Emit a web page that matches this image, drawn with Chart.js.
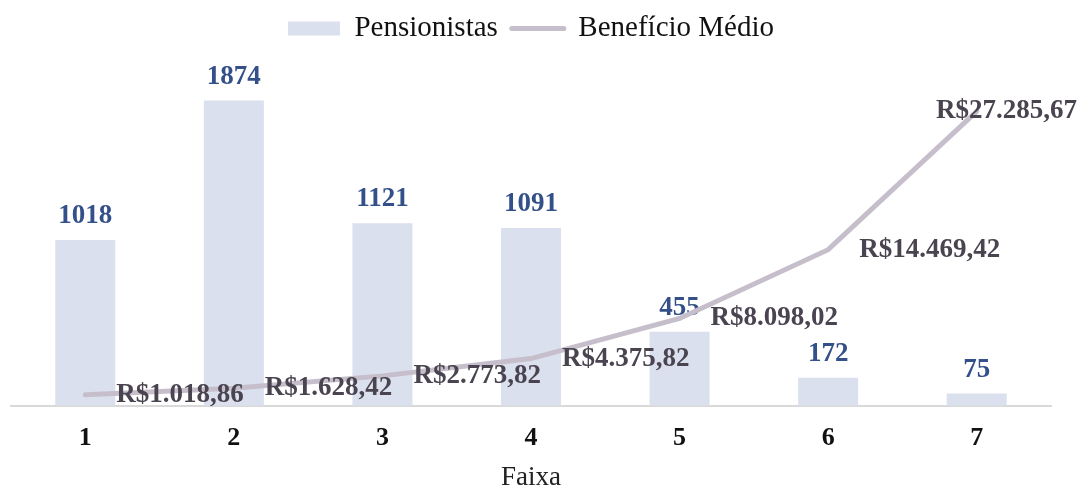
<!DOCTYPE html>
<html>
<head>
<meta charset="utf-8">
<script src="https://cdn.jsdelivr.net/npm/chart.js@4"></script>
<style>
  html, body { margin: 0; padding: 0; background: #fff; }
  #wrap { width: 1081px; height: 486px; }
</style>
</head>
<body>
<div id="wrap"><canvas id="faixaChart"></canvas></div>
<script>
// === data ===
const faixas = ["1", "2", "3", "4", "5", "6", "7"];
const pensionistas = [1018, 1874, 1121, 1091, 455, 172, 75];
const beneficioMedio = [1018.86, 1628.42, 2773.82, 4375.82, 8098.02, 14469.42, 27285.67];

const serif = "'Liberation Serif', 'Times New Roman', serif";

function formatBRL(v) {
    const parts = v.toFixed(2).split(".");
    const inteiro = parts[0].replace(/\B(?=(\d{3})+(?!\d))/g, ".");
    return "R$" + inteiro + "," + parts[1];
}

// extra room under the legend
const legendGap = {
    id: "legendGap",
    beforeInit(chart) {
        const fit = chart.legend.fit;
        chart.legend.fit = function () {
            fit.bind(chart.legend)();
            this.height += 27;
        };
    }
};

// value labels (bars right after the bars, line labels on top of everything)
const valueLabels = {
    id: "valueLabels",
    afterDatasetDraw(chart, args) {
        if (args.index !== 0) return;
        const ctx = chart.ctx;
        ctx.save();
        ctx.font = "bold 27px " + serif;
        ctx.fillStyle = "#34508a";
        ctx.textAlign = "center";
        ctx.textBaseline = "alphabetic";
        args.meta.data.forEach((bar, i) => {
            ctx.fillText(String(pensionistas[i]), bar.x, bar.y - 17);
        });
        ctx.restore();
    },
    afterDatasetsDraw(chart) {
        const ctx = chart.ctx;
        const meta = chart.getDatasetMeta(1);
        ctx.save();
        ctx.font = "bold 27px " + serif;
        ctx.fillStyle = "#4a4450";
        ctx.textAlign = "left";
        ctx.textBaseline = "middle";
        meta.data.forEach((pt, i) => {
            const txt = formatBRL(beneficioMedio[i]);
            const w = ctx.measureText(txt).width;
            let x = pt.x + 31;
            if (x + w > chart.width - 4) x = chart.width - 4 - w;
            ctx.fillText(txt, x, pt.y);
        });
        ctx.restore();
    }
};

const ctx = document.getElementById("faixaChart").getContext("2d");

new Chart(ctx, {
    type: "bar",
    data: {
        labels: faixas,
        datasets: [{
            label: "Pensionistas",
            data: pensionistas,
            backgroundColor: "#dae0ee",
            borderWidth: 0,
            categoryPercentage: 1,
            barPercentage: 0.404,
            yAxisID: "y",
            order: 1
        }, {
            type: "line",
            label: "Benefício Médio",
            data: beneficioMedio,
            borderColor: "#c6bfcb",
            backgroundColor: "#c6bfcb",
            borderWidth: 5,
            borderCapStyle: "round",
            pointRadius: 0,
            tension: 0,
            fill: false,
            yAxisID: "y1",
            order: 0
        }]
    },
    options: {
        responsive: true,
        maintainAspectRatio: false,
        animation: false,
        layout: { padding: { left: 11, right: 30, top: 0, bottom: 0 } },
        plugins: {
            tooltip: { enabled: false },
            legend: {
                position: "top",
                labels: {
                    usePointStyle: true,
                    pointStyleWidth: 52,
                    boxHeight: 14,
                    padding: 14,
                    color: "#111",
                    font: { family: serif, size: 29 },
                    generateLabels(chart) {
                        return chart.data.datasets.map((ds, i) => ({
                            text: ds.label,
                            fillStyle: ds.type === "line" ? ds.borderColor : ds.backgroundColor,
                            strokeStyle: ds.type === "line" ? ds.borderColor : ds.backgroundColor,
                            lineWidth: ds.type === "line" ? 5 : 0,
                            lineCap: "round",
                            pointStyle: ds.type === "line" ? "line" : "rect",
                            fontColor: "#111",
                            datasetIndex: i
                        }));
                    }
                }
            }
        },
        scales: {
            x: {
                grid: { display: false, drawTicks: false },
                border: { display: true, color: "#d9d9d9", width: 2 },
                ticks: {
                    color: "#111",
                    padding: 17,
                    font: { family: serif, size: 26, weight: "bold" }
                },
                title: {
                    display: true,
                    text: "Faixa",
                    color: "#222",
                    padding: { top: -7, bottom: -5 },
                    font: { family: serif, size: 27, lineHeight: 1 }
                }
            },
            y: {
                display: false,
                min: 0,
                max: 2000
            },
            y1: {
                display: false,
                min: 0,
                max: 30200
            }
        }
    },
    plugins: [legendGap, valueLabels]
});
</script>
</body>
</html>
